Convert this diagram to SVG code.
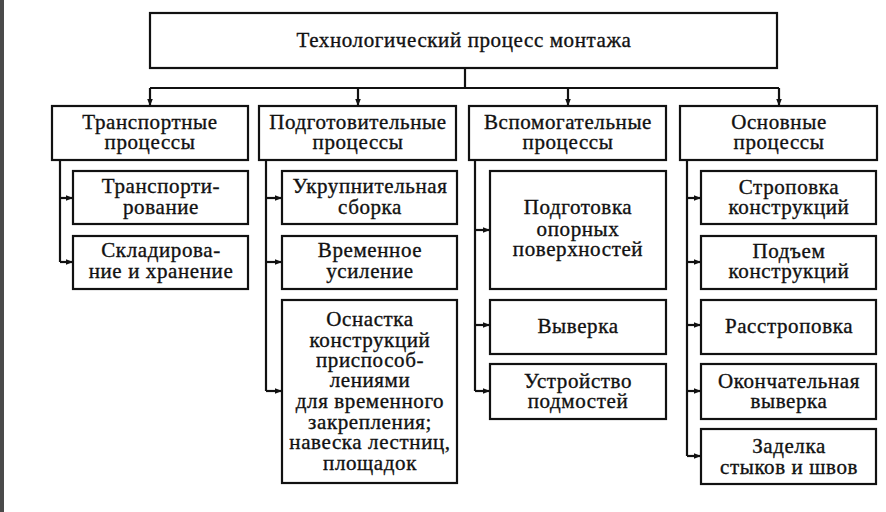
<svg xmlns="http://www.w3.org/2000/svg" width="886" height="512" viewBox="0 0 886 512">
<defs>
<marker id="ah" viewBox="0 0 10 10" refX="10" refY="5" markerWidth="7" markerHeight="7" markerUnits="userSpaceOnUse" orient="auto">
<path d="M0,1 L10,5 L0,9 z" fill="#111"/>
</marker>
</defs>
<style>
.box{fill:#fff;stroke:#111;stroke-width:2.2}
.t{font-family:"Liberation Serif","Times New Roman",serif;font-size:21px;letter-spacing:0.6px;fill:#111;stroke:#111;stroke-width:0.35;text-anchor:middle}
.c{fill:none;stroke:#111;stroke-width:2.2}
.a{fill:none;stroke:#111;stroke-width:2.2;marker-end:url(#ah)}
</style>
<rect x="0" y="0" width="886" height="512" fill="#fff"/>
<rect x="0" y="0" width="4" height="512" fill="#4a4a4a"/>

<g id="connectors">
<path class="c" d="M465,68 V88 M150,88 H779"/>
<path class="a" d="M150,88 V106"/>
<path class="a" d="M358,88 V106"/>
<path class="a" d="M568,88 V106"/>
<path class="a" d="M779,88 V106"/>
<path class="c" d="M60,160 V262"/>
<path class="a" d="M60,198 H73"/>
<path class="a" d="M60,262 H73"/>
<path class="c" d="M266,160 V391"/>
<path class="a" d="M266,198 H282"/>
<path class="a" d="M266,262 H282"/>
<path class="a" d="M266,391 H282"/>
<path class="c" d="M475,160 V391"/>
<path class="a" d="M475,230 H490"/>
<path class="a" d="M475,325 H490"/>
<path class="a" d="M475,391 H490"/>
<path class="c" d="M687,160 V456"/>
<path class="a" d="M687,198 H701"/>
<path class="a" d="M687,262 H701"/>
<path class="a" d="M687,325 H701"/>
<path class="a" d="M687,391 H701"/>
<path class="a" d="M687,456 H701"/>
</g>

<g id="root"><rect class="box" x="150" y="13" width="627" height="55"/><text class="t" x="464" y="47">Технологический процесс монтажа</text></g>

<g id="transport"><rect class="box" x="52" y="106" width="196" height="54"/><text class="t" x="150" y="129">Транспортные</text><text class="t" x="150" y="149">процессы</text></g>
<g id="prep"><rect class="box" x="259" y="106" width="197" height="54"/><text class="t" x="358" y="129">Подготовительные</text><text class="t" x="358" y="149">процессы</text></g>
<g id="aux"><rect class="box" x="469" y="106" width="197" height="54"/><text class="t" x="568" y="129">Вспомогательные</text><text class="t" x="568" y="149">процессы</text></g>
<g id="main"><rect class="box" x="680" y="106" width="197" height="54"/><text class="t" x="779" y="129">Основные</text><text class="t" x="779" y="149">процессы</text></g>

<g id="transp1"><rect class="box" x="73" y="171" width="175" height="53"/><text class="t" x="161" y="193">Транспорти-</text><text class="t" x="161" y="214">рование</text></g>
<g id="transp2"><rect class="box" x="73" y="236" width="175" height="53"/><text class="t" x="161" y="257">Складирова-</text><text class="t" x="161" y="278">ние и хранение</text></g>

<g id="prep1"><rect class="box" x="282" y="171" width="175" height="53"/><text class="t" x="370" y="193">Укрупнительная</text><text class="t" x="370" y="214">сборка</text></g>
<g id="prep2"><rect class="box" x="282" y="236" width="175" height="53"/><text class="t" x="370" y="257">Временное</text><text class="t" x="370" y="278">усиление</text></g>
<g id="prep3"><rect class="box" x="282" y="300" width="175" height="183"/>
<text class="t" x="370" y="326">Оснастка</text>
<text class="t" x="370" y="347">конструкций</text>
<text class="t" x="370" y="367">приспособ-</text>
<text class="t" x="370" y="387">лениями</text>
<text class="t" x="370" y="408">для временного</text>
<text class="t" x="370" y="429">закрепления;</text>
<text class="t" x="370" y="449">навеска лестниц,</text>
<text class="t" x="370" y="470">площадок</text></g>

<g id="aux1"><rect class="box" x="490" y="171" width="176" height="118"/><text class="t" x="578" y="214">Подготовка</text><text class="t" x="578" y="236">опорных</text><text class="t" x="578" y="256">поверхностей</text></g>
<g id="aux2"><rect class="box" x="490" y="300" width="176" height="54"/><text class="t" x="578" y="333">Выверка</text></g>
<g id="aux3"><rect class="box" x="490" y="364" width="176" height="55"/><text class="t" x="578" y="388">Устройство</text><text class="t" x="578" y="408">подмостей</text></g>

<g id="main1"><rect class="box" x="701" y="171" width="175" height="53"/><text class="t" x="789" y="194">Строповка</text><text class="t" x="789" y="214">конструкций</text></g>
<g id="main2"><rect class="box" x="701" y="236" width="175" height="53"/><text class="t" x="789" y="258">Подъем</text><text class="t" x="789" y="278">конструкций</text></g>
<g id="main3"><rect class="box" x="701" y="300" width="175" height="54"/><text class="t" x="789" y="333">Расстроповка</text></g>
<g id="main4"><rect class="box" x="701" y="364" width="175" height="55"/><text class="t" x="789" y="388">Окончательная</text><text class="t" x="789" y="408">выверка</text></g>
<g id="main5"><rect class="box" x="701" y="429" width="175" height="55"/><text class="t" x="789" y="453">Заделка</text><text class="t" x="789" y="474">стыков и швов</text></g>
</svg>
